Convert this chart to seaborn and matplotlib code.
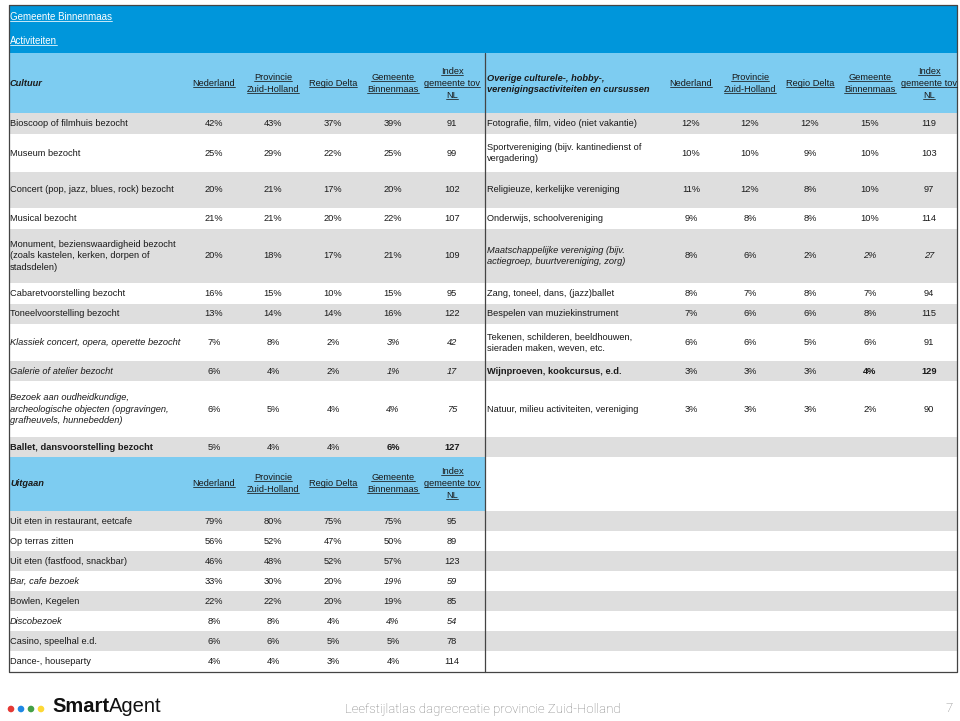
import numpy as np
import pandas as pd
import matplotlib
matplotlib.use('Agg')
import matplotlib.pyplot as plt
import seaborn as sns
from matplotlib.patches import Rectangle, Circle

sns.set_theme(style="white")
plt.rcParams['font.family'] = ['Liberation Sans', 'DejaVu Sans']

# ---------------------------------------------------------------
# Data
# ---------------------------------------------------------------
title = "Gemeente Binnenmaas"
subtitle = "Activiteiten"
col_headers = [["Nederland"], ["Provincie", "Zuid-Holland"], ["Regio Delta"],
               ["Gemeente", "Binnenmaas"], ["Index", "gemeente tov", "NL"]]

cult_title = "Cultuur"
cult_labels = ["Bioscoop of filmhuis bezocht", "Museum bezocht",
               "Concert (pop, jazz, blues, rock) bezocht", "Musical bezocht",
               "Monument, bezienswaardigheid bezocht\n(zoals kastelen, kerken, dorpen of\nstadsdelen)",
               "Cabaretvoorstelling bezocht", "Toneelvoorstelling bezocht",
               "Klassiek concert, opera, operette bezocht", "Galerie of atelier bezocht",
               "Bezoek aan oudheidkundige,\narcheologische objecten (opgravingen,\ngrafheuvels, hunnebedden)",
               "Ballet, dansvoorstelling bezocht"]
cult_ned = [42, 25, 20, 21, 20, 16, 13, 7, 6, 6, 5]
cult_prov = [43, 29, 21, 21, 18, 15, 14, 8, 4, 5, 4]
cult_regio = [37, 22, 17, 20, 17, 10, 14, 2, 2, 4, 4]
cult_gem = [39, 25, 20, 22, 21, 15, 16, 3, 1, 4, 6]
cult_idx = [91, 99, 102, 107, 109, 95, 122, 42, 17, 75, 127]
cult_style = ['normal'] * 7 + ['italic', 'italic', 'italic', 'bold']

over_title = "Overige culturele-, hobby-,\nverenigingsactiviteiten en cursussen"
over_labels = ["Fotografie, film, video (niet vakantie)",
               "Sportvereniging (bijv. kantinedienst of\nvergadering)",
               "Religieuze, kerkelijke vereniging", "Onderwijs, schoolvereniging",
               "Maatschappelijke vereniging (bijv.\nactiegroep, buurtvereniging, zorg)",
               "Zang, toneel, dans, (jazz)ballet", "Bespelen van muziekinstrument",
               "Tekenen, schilderen, beeldhouwen,\nsieraden maken, weven, etc.",
               "Wijnproeven, kookcursus, e.d.", "Natuur, milieu activiteiten, vereniging"]
over_ned = [12, 10, 11, 9, 8, 8, 7, 6, 3, 3]
over_prov = [12, 10, 12, 8, 6, 7, 6, 6, 3, 3]
over_regio = [12, 9, 8, 8, 2, 8, 6, 5, 3, 3]
over_gem = [15, 10, 10, 10, 2, 7, 8, 6, 4, 2]
over_idx = [119, 103, 97, 114, 27, 94, 115, 91, 129, 90]
over_style = ['normal'] * 4 + ['italic'] + ['normal'] * 3 + ['bold', 'normal']

uit_title = "Uitgaan"
uit_labels = ["Uit eten in restaurant, eetcafe", "Op terras zitten",
              "Uit eten (fastfood, snackbar)", "Bar, cafe bezoek", "Bowlen, Kegelen",
              "Discobezoek", "Casino, speelhal e.d.", "Dance-, houseparty"]
uit_ned = [79, 56, 46, 33, 22, 8, 6, 4]
uit_prov = [80, 52, 48, 30, 22, 8, 6, 4]
uit_regio = [75, 47, 52, 20, 20, 4, 5, 3]
uit_gem = [75, 50, 57, 19, 19, 4, 5, 4]
uit_idx = [95, 89, 123, 59, 85, 54, 78, 114]
uit_style = ['normal'] * 3 + ['italic', 'normal', 'italic', 'normal', 'normal']

footer_text = "Leefstijlatlas dagrecreatie provincie Zuid-Holland"
page_no = "7"

# ---------------------------------------------------------------
# Layout (pixel space)
# ---------------------------------------------------------------
X0, XM, X1 = 9, 485, 957
COL_DX = [205, 264, 324, 384, 443]
TOP, BAND, HEAD = 5, 53, 113
cult_h = [21, 38, 36, 21, 54, 21, 20, 37, 20, 56, 20]
uit_head_h = 54
uit_h = [20, 20, 20, 20, 20, 20, 20, 21]

DARK = '#0096DB'
LIGHT = '#7DCCF1'
GREY = '#DEDEDE'
INK = '#1a1a1a'
FS = 6.7

fig = plt.figure(figsize=(9.6, 7.21), dpi=100)
ax = fig.add_axes([0, 0, 1, 1])
ax.set_xlim(0, 960)
ax.set_ylim(721, 0)
ax.axis('off')

underlined = []


def put(x, y, s, ha='center', style='normal', size=FS, color=INK, ul=False, **kw):
    t = ax.text(x, y, s, ha=ha, va='center', fontsize=size, color=color,
                fontweight='bold' if 'bold' in style else 'normal',
                fontstyle='italic' if 'italic' in style else 'normal',
                linespacing=1.3, **kw)
    if ul:
        underlined.append(t)
    return t


def header_cols(xleft, yc):
    for dx, lines in zip(COL_DX, col_headers):
        n = len(lines)
        for k, ln in enumerate(lines):
            put(xleft + dx, yc + (k - (n - 1) / 2) * 12, ln, ul=True)


def fmt_rows(xleft, y0, heights, labels, cols, styles):
    y = y0
    for i, h in enumerate(heights):
        yc = y + h / 2
        if i < len(labels):
            st = styles[i]
            put(xleft + 1, yc, labels[i], ha='left', style=st)
            for j, col in enumerate(cols):
                s = f"{col[i]}%" if j < 4 else f"{col[i]}"
                put(xleft + COL_DX[j], yc, s, style=st if j >= 3 else 'normal')
        y += h


def stripes(xa, xb, y0, heights):
    y = y0
    for i, h in enumerate(heights):
        if i % 2 == 0:
            ax.add_patch(Rectangle((xa, y), xb - xa, h, color=GREY, lw=0, zorder=0))
        y += h


# title band
ax.add_patch(Rectangle((X0, TOP), X1 - X0, BAND - TOP, color=DARK, lw=0, zorder=0))
put(X0 + 1, 17, title, ha='left', color='white', size=7, ul=True)
put(X0 + 1, 41, subtitle, ha='left', color='white', size=7, ul=True)

# header row
ax.add_patch(Rectangle((X0, BAND), X1 - X0, HEAD - BAND, color=LIGHT, lw=0, zorder=0))
put(X0 + 1, 84, cult_title, ha='left', style='bold italic')
put(XM + 2, 84, over_title, ha='left', style='bold italic')
header_cols(X0, 84)
header_cols(XM + 1, 84)

# body stripes
stripes(X0, X1, HEAD, cult_h)
y_uit = HEAD + sum(cult_h)
ax.add_patch(Rectangle((X0, y_uit), XM - X0, uit_head_h, color=LIGHT, lw=0, zorder=0))
stripes(X0, X1, y_uit + uit_head_h, uit_h)

fmt_rows(X0, HEAD, cult_h, cult_labels,
         [cult_ned, cult_prov, cult_regio, cult_gem, cult_idx], cult_style)
fmt_rows(XM + 1, HEAD, cult_h, over_labels,
         [over_ned, over_prov, over_regio, over_gem, over_idx], over_style)

put(X0 + 1, y_uit + uit_head_h / 2, uit_title, ha='left', style='bold italic')
header_cols(X0, y_uit + uit_head_h / 2)
fmt_rows(X0, y_uit + uit_head_h, uit_h, uit_labels,
         [uit_ned, uit_prov, uit_regio, uit_gem, uit_idx], uit_style)

# borders
y_end = y_uit + uit_head_h + sum(uit_h)
ax.plot([X0, X1, X1, X0, X0], [TOP, TOP, y_end, y_end, TOP], color='#444444', lw=0.9, zorder=5)
ax.plot([XM, XM], [BAND, y_end], color='#444444', lw=0.9, zorder=5)

# footer
dot_cols = ['#E53935', '#1E88E5', '#43A047', '#FDD835']
for k, c in enumerate(dot_cols):
    ax.add_patch(Circle((11 + 10 * k, 709), 3.3, color=c, lw=0))
t_smart = ax.text(52, 707, "Smart", ha='left', va='center', fontsize=14.5,
                  fontweight='bold', color='#111111')
ax.text(483, 709, footer_text, ha='center', va='center', fontsize=9.5,
        family=['Roboto', 'DejaVu Sans'], fontweight='light', color='#7a7a7a')
ax.text(953, 709, page_no, ha='right', va='center', fontsize=9.5,
        family=['Roboto', 'DejaVu Sans'], fontweight='light', color='#7a7a7a')

# underlines and logo second half need text extents
fig.canvas.draw()
r = fig.canvas.get_renderer()
inv = ax.transData.inverted()
for t in underlined:
    bb = t.get_window_extent(r)
    (xa, ya), (xb, _) = inv.transform([[bb.x0, bb.y0 + 1.2], [bb.x1, bb.y0 + 1.2]])
    ax.plot([xa, xb], [ya, ya], color=t.get_color(), lw=0.55, zorder=6)
bb = t_smart.get_window_extent(r)
xs, _ = inv.transform([[bb.x1, bb.y0]])[0]
ax.text(xs, 707, "Agent", ha='left', va='center', fontsize=14.5,
        fontweight='normal', color='#111111')

fig.savefig("out.png", dpi=100)
plt.close(fig)
